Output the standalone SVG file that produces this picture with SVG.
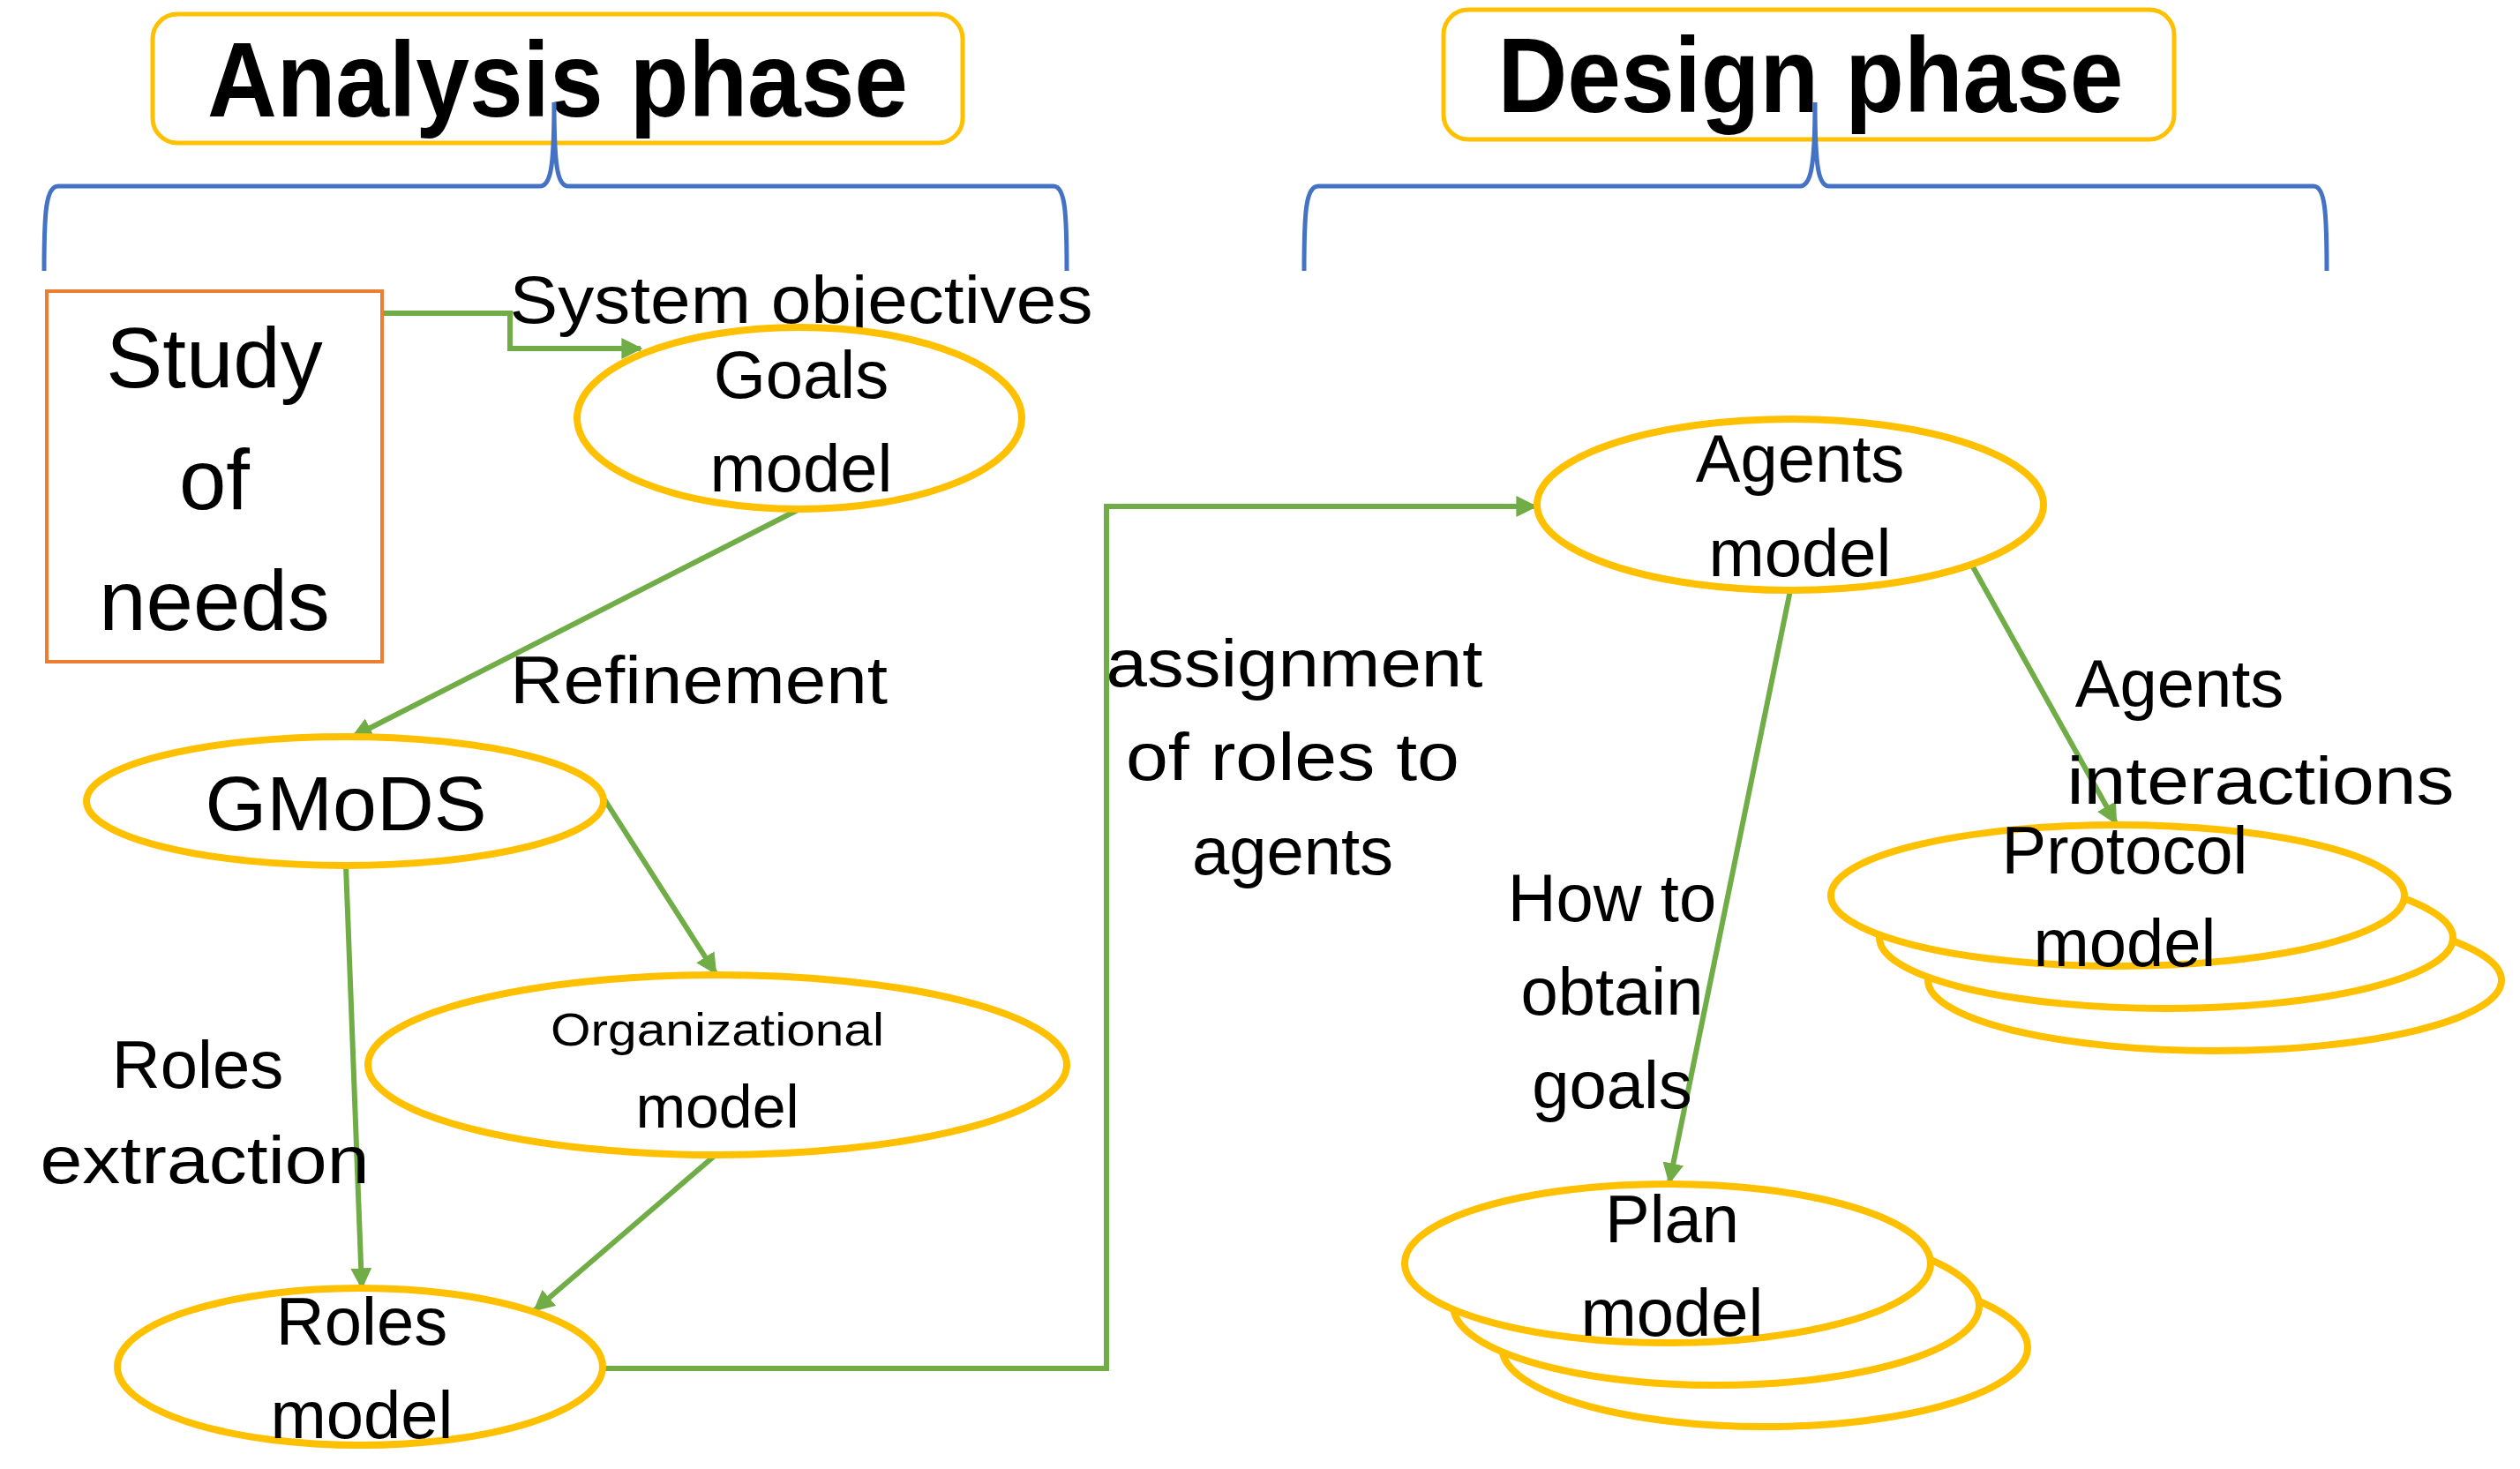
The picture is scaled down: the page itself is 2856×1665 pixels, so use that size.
<svg xmlns="http://www.w3.org/2000/svg" width="2856" height="1665" viewBox="0 0 2856 1665">
<style>
text{font-family:"Liberation Sans",Arial,sans-serif;fill:#000;text-anchor:middle}
.t{font-size:76px}
.h{font-size:120px;font-weight:bold}
.ph{fill:#fff;stroke:#FFC000;stroke-width:5}
.br{fill:none;stroke:#4472C4;stroke-width:5}
.el{fill:#fff;stroke:#FFC000;stroke-width:8}
.c{fill:none;stroke:#70AD47;stroke-width:6}
</style>
<defs>
<marker id="a" viewBox="0 0 10 10" refX="9" refY="5" markerWidth="4" markerHeight="4" orient="auto" markerUnits="strokeWidth">
<path d="M0,0 L10,5 L0,10 z" fill="#70AD47"/>
</marker>
</defs>
<g id="analysis-title">
<rect class="ph" x="173" y="16" width="918" height="146" rx="28"/>
<text class="h" x="632" y="132" textLength="794" lengthAdjust="spacingAndGlyphs">Analysis phase</text>
</g>
<g id="design-title">
<rect class="ph" x="1636" y="11" width="828" height="147" rx="28"/>
<text class="h" x="2052" y="127" textLength="709" lengthAdjust="spacingAndGlyphs">Design phase</text>
</g>
<g id="analysis-brace">
<path class="br" d="M50,307 C50,240 52,211 66,211 L612,211 C624,211 628,190 628,116 C628,190 632,211 644,211 L1194,211 C1207,211 1209,240 1209,307"/>
</g>
<g id="design-brace">
<path class="br" d="M1478,307 C1478,240 1480,211 1494,211 L2040,211 C2052,211 2057,190 2057,116 C2057,190 2061,211 2073,211 L2622,211 C2635,211 2637,240 2637,307"/>
</g>
<g id="connectors">
<polyline class="c" points="433,355 578,355 578,395 726,395" marker-end="url(#a)"/>
<line class="c" x1="906" y1="577" x2="400" y2="835" marker-end="url(#a)"/>
<line class="c" x1="392" y1="981" x2="410" y2="1459" marker-end="url(#a)"/>
<line class="c" x1="685" y1="906" x2="811" y2="1103" marker-end="url(#a)"/>
<line class="c" x1="811" y1="1309" x2="606" y2="1485" marker-end="url(#a)"/>
<polyline class="c" points="683,1551 1254,1551 1254,574 1740,574" marker-end="url(#a)"/>
<line class="c" x1="2029" y1="669" x2="1892" y2="1340" marker-end="url(#a)"/>
<line class="c" x1="2234" y1="639" x2="2398" y2="933" marker-end="url(#a)"/>
</g>
<g id="study">
<rect x="53" y="330" width="380" height="420" fill="#fff" stroke="#ED7D31" stroke-width="4"/>
<text x="243" y="439" font-size="96">Study</text>
<text x="243" y="577" font-size="96">of</text>
<text x="243" y="714" font-size="96">needs</text>
</g>
<g id="label-system-objectives"><text class="t" x="908" y="366" textLength="661" lengthAdjust="spacingAndGlyphs">System objectives</text></g>
<g id="goals">
<ellipse class="el" cx="906" cy="474" rx="252" ry="103"/>
<text class="t" x="908" y="451">Goals</text>
<text class="t" x="908" y="557">model</text>
</g>
<g id="label-refinement"><text class="t" x="792" y="797" textLength="428" lengthAdjust="spacingAndGlyphs">Refinement</text></g>
<g id="gmods">
<ellipse class="el" cx="391" cy="908" rx="293" ry="73"/>
<text x="392" y="941" font-size="88" textLength="319" lengthAdjust="spacingAndGlyphs">GMoDS</text>
</g>
<g id="label-roles-extraction">
<text class="t" x="224" y="1233">Roles</text>
<text class="t" x="232" y="1341" textLength="373" lengthAdjust="spacingAndGlyphs">extraction</text>
</g>
<g id="organizational">
<ellipse class="el" cx="813" cy="1207" rx="396" ry="102"/>
<text x="813" y="1185" font-size="52" textLength="378" lengthAdjust="spacingAndGlyphs">Organizational</text>
<text x="813" y="1278" font-size="68">model</text>
</g>
<g id="roles">
<ellipse class="el" cx="408" cy="1549" rx="275" ry="89"/>
<text class="t" x="410" y="1524">Roles</text>
<text class="t" x="410" y="1630">model</text>
</g>
<g id="label-assignment">
<text class="t" x="1467" y="778" textLength="427" lengthAdjust="spacingAndGlyphs">assignment</text>
<text class="t" x="1465" y="884" textLength="378" lengthAdjust="spacingAndGlyphs">of roles to</text>
<text class="t" x="1465" y="991">agents</text>
</g>
<g id="agents">
<ellipse class="el" cx="2029" cy="572" rx="287" ry="97"/>
<text class="t" x="2040" y="546">Agents</text>
<text class="t" x="2040" y="653">model</text>
</g>
<g id="label-how-to">
<text class="t" x="1827" y="1044">How to</text>
<text class="t" x="1827" y="1150">obtain</text>
<text class="t" x="1827" y="1256">goals</text>
</g>
<g id="label-agents-interactions">
<text class="t" x="2470" y="801">Agents</text>
<text class="t" x="2562" y="911" textLength="439" lengthAdjust="spacingAndGlyphs">interactions</text>
</g>
<g id="protocol">
<ellipse class="el" cx="2510" cy="1111" rx="325" ry="80"/>
<ellipse class="el" cx="2455" cy="1063" rx="325" ry="80"/>
<ellipse class="el" cx="2400" cy="1015" rx="325" ry="80"/>
<text class="t" x="2408" y="990">Protocol</text>
<text class="t" x="2408" y="1095">model</text>
</g>
<g id="plan">
<ellipse class="el" cx="2000" cy="1527" rx="298" ry="90"/>
<ellipse class="el" cx="1945" cy="1480" rx="298" ry="90"/>
<ellipse class="el" cx="1890" cy="1432" rx="298" ry="90"/>
<text class="t" x="1895" y="1408">Plan</text>
<text class="t" x="1895" y="1514">model</text>
</g>
</svg>
